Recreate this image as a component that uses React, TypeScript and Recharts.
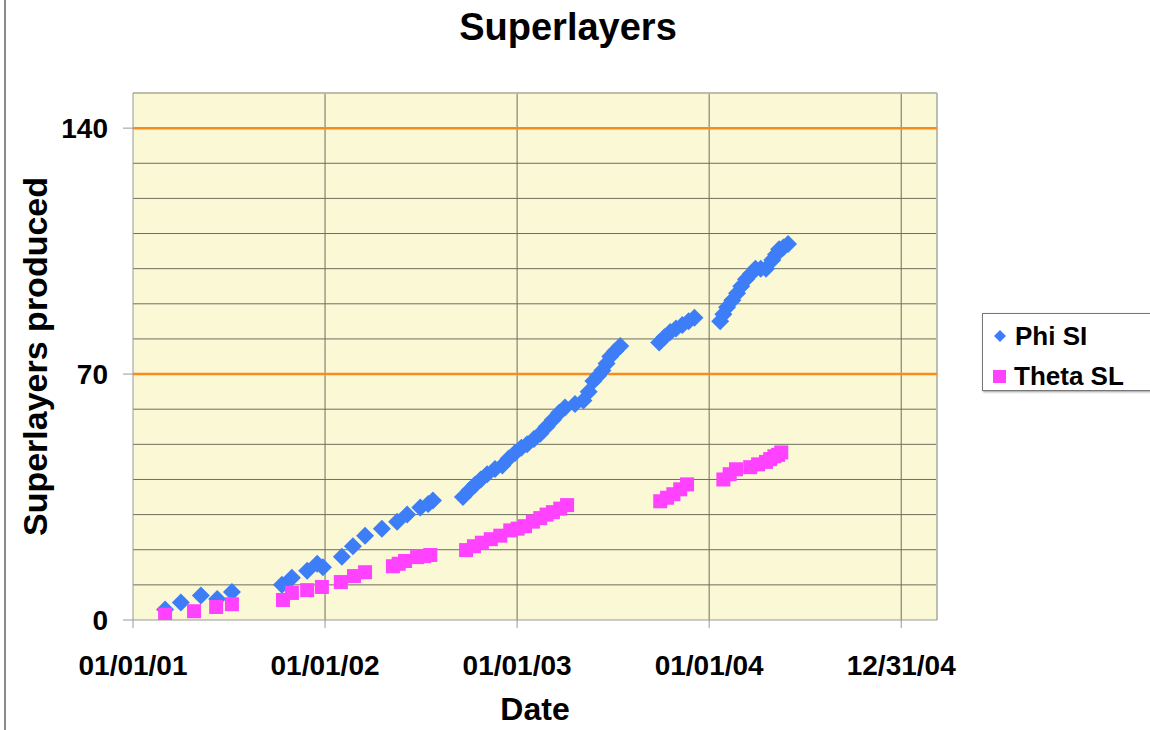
import { ScatterChart, Scatter, XAxis, YAxis, CartesianGrid, ReferenceLine, Label } from "recharts"

// days counted from 01/01/01
const phiDays = [61, 91, 129, 160, 188, 283, 302, 331, 350, 361, 397, 418, 441, 473, 502, 521, 546, 561, 570, 627, 640, 650, 661, 673, 688, 702, 714, 726, 738, 749, 762, 774, 786, 798, 810, 821, 840, 856, 866, 875, 884, 892, 900, 907, 916, 926, 1000, 1010, 1021, 1032, 1044, 1056, 1067, 1116, 1122, 1129, 1139, 1148, 1156, 1165, 1174, 1183, 1193, 1203, 1215, 1222, 1228, 1236, 1245]
const phiCount = [3, 5, 7, 6, 8, 10, 12, 14, 16, 15, 18, 21, 24, 26, 28, 30, 32, 33, 34, 35, 37, 38.5, 40, 41.5, 43, 44, 46, 47.5, 49, 50, 51.5, 53, 55, 57, 59, 60.5, 61.5, 62.5, 65, 68, 69.5, 71, 73, 75, 76.5, 78, 79, 80.5, 82, 83, 84, 85, 86, 85, 87, 89, 91, 93, 95, 97, 98.5, 100, 100, 100, 102.5, 104, 105.5, 106, 107]

const thetaDays = [61, 116, 158, 188, 285, 302, 331, 359, 395, 420, 441, 494, 505, 517, 540, 553, 565, 633, 648, 663, 680, 698, 717, 731, 745, 760, 774, 786, 798, 812, 825, 1002, 1015, 1027, 1040, 1053, 1122, 1134, 1146, 1173, 1188, 1203, 1211, 1219, 1226, 1232]
const thetaCount = [1.5, 2.5, 3.7, 4.5, 5.7, 7.7, 8.5, 9.4, 10.8, 12.5, 13.6, 15.3, 16, 16.8, 17.9, 18.2, 18.5, 19.9, 21, 22, 23, 24, 25.5, 26, 26.7, 28, 29, 30, 30.7, 31.7, 32.7, 33.8, 34.8, 35.8, 37.2, 38.6, 40, 41.5, 42.9, 43.5, 44.3, 45, 45.8, 46.6, 47, 47.7]

const xTicks = [0, 365, 730, 1095, 1460]
const xTickLabels = ["01/01/01", "01/01/02", "01/01/03", "01/01/04", "12/31/04"]
const yTicks = [0, 70, 140]
const yGrid = [10, 20, 30, 40, 50, 60, 80, 90, 100, 110, 120, 130]

const phiData = phiDays.map((d, i) => ({ day: d, count: phiCount[i] }))
const thetaData = thetaDays.map((d, i) => ({ day: d, count: thetaCount[i] }))

const FONT = "'Liberation Sans', Arial, Helvetica, sans-serif"
const BLUE = "#3d7ef8"
const PINK = "#ff42ff"
const ORANGE = "#f98c1c"
const GRID = "#6e6e60"

const Diamond = (props: any) => {
  const { cx, cy } = props
  const r = 9
  return <polygon points={`${cx},${cy - r} ${cx + r},${cy} ${cx},${cy + r} ${cx - r},${cy}`} fill={BLUE} />
}

const Square = (props: any) => {
  const { cx, cy } = props
  const h = 7
  return <rect x={cx - h} y={cy - h} width={h * 2} height={h * 2} fill={PINK} />
}

const YTitle = (props: any) => {
  const { viewBox } = props
  const cy = viewBox.y + viewBox.height / 2
  return (
    <text
      x={35}
      y={cy}
      transform={`rotate(-90, 35, ${cy})`}
      textAnchor="middle"
      dominantBaseline="central"
      fontSize={34}
      fontWeight={700}
      fontFamily={FONT}
      fill="#000"
    >
      Superlayers produced
    </text>
  )
}

const tickStyle = { fill: "#000", fontSize: 28, fontWeight: 700, fontFamily: FONT }

export default function App() {
  return (
    <div style={{ position: "absolute", left: 0, top: 0, width: 1150, height: 730, background: "#fff", fontFamily: FONT }}>
      <div style={{ position: "absolute", left: 4, top: 0, width: 2, height: 730, background: "#8a8a8a" }} />
      <div
        style={{
          position: "absolute",
          left: 368,
          top: 6,
          width: 400,
          textAlign: "center",
          fontSize: 38,
          lineHeight: "42px",
          fontWeight: 700,
        }}
      >
        Superlayers
      </div>
      <ScatterChart width={1150} height={730} margin={{ top: 93, right: 213, bottom: 0, left: 5 }}>
        <CartesianGrid
          fill="#faf8d5"
          stroke={GRID}
          strokeWidth={1}
          horizontalValues={yGrid}
          verticalValues={xTicks.slice(1)}
        />
        <XAxis
          type="number"
          dataKey="day"
          domain={[0, 1528]}
          ticks={xTicks}
          tickFormatter={(v: number) => xTickLabels[xTicks.indexOf(v)] ?? ""}
          interval={0}
          allowDataOverflow
          height={110}
          tickSize={8}
          tickMargin={27}
          tick={tickStyle}
          axisLine={{ stroke: "#999" }}
          tickLine={{ stroke: "#999" }}
        >
          <Label value="Date" position="insideBottom" offset={10} fontSize={32} fontWeight={700} fill="#000" fontFamily={FONT} />
        </XAxis>
        <YAxis
          type="number"
          dataKey="count"
          domain={[0, 150]}
          ticks={yTicks}
          interval={0}
          allowDataOverflow
          width={128}
          tickSize={10}
          tickMargin={15}
          tick={tickStyle}
          axisLine={{ stroke: "#999" }}
          tickLine={{ stroke: "#999" }}
        >
          <Label content={<YTitle />} />
        </YAxis>
        <ReferenceLine y={150} stroke="#bdbdae" strokeWidth={2} />
        <ReferenceLine x={1528} stroke="#bdbdae" strokeWidth={2} />
        <ReferenceLine y={70} stroke={ORANGE} strokeWidth={2.5} />
        <ReferenceLine y={140} stroke={ORANGE} strokeWidth={2.5} />
        <Scatter name="Phi SI" data={phiData} shape={<Diamond />} isAnimationActive={false} />
        <Scatter name="Theta SL" data={thetaData} shape={<Square />} isAnimationActive={false} />
      </ScatterChart>
      <div
        style={{
          position: "absolute",
          left: 982,
          top: 313,
          width: 180,
          height: 78,
          border: "1px solid #777",
          boxShadow: "1px 1px 2px #999",
          background: "#fff",
          boxSizing: "border-box",
        }}
      >
        <div style={{ position: "absolute", left: 8, top: 8, display: "flex", alignItems: "center", fontSize: 26, fontWeight: 700, lineHeight: "28px" }}>
          <svg width={18} height={18} style={{ marginRight: 6 }}>
            <polygon points="9,3 15,9 9,15 3,9" fill={BLUE} />
          </svg>
          Phi SI
        </div>
        <div style={{ position: "absolute", left: 8, top: 48, display: "flex", alignItems: "center", fontSize: 26, fontWeight: 700, lineHeight: "28px" }}>
          <svg width={18} height={18} style={{ marginRight: 5 }}>
            <rect x={2} y={3} width={13} height={13} fill={PINK} />
          </svg>
          Theta SL
        </div>
      </div>
    </div>
  )
}
